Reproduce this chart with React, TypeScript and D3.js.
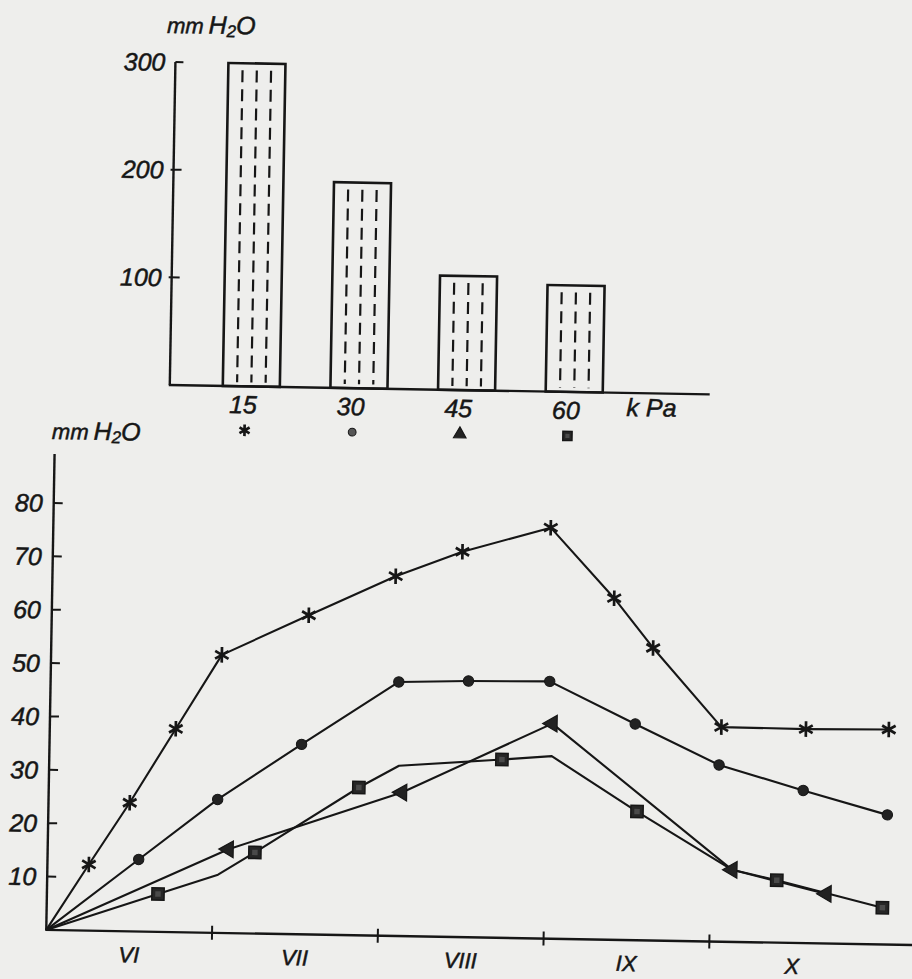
import React from "react";
import * as d3 from "d3";

const W = 912;
const H = 979;

// upper chart: pressure (kPa) -> mm H2O
const pressureLabels = ["15", "30", "45", "60"];
const barHeights = [300, 191, 106, 99];
const barTicks = [100, 200, 300];

// lower chart: months VI..X
const monthLabels = ["VI", "VII", "VIII", "IX", "X"];
const monthTicks = [1, 2, 3, 4];
const lineTicks = [10, 20, 30, 40, 50, 60, 70, 80];

// 15 kPa (asterisk)
const kpa15Months = [0, 0.25, 0.49, 0.76, 1.03, 1.55, 2.07, 2.47, 3.0, 3.39, 3.63, 4.05, 4.56, 5.06];
const kpa15Values = [0, 12.4, 24.1, 38.1, 52.1, 59.8, 67.4, 72.2, 77, 64, 54.8, 40.2, 40.1, 40.3];
const kpa15Marked = [0, 1, 1, 1, 1, 1, 1, 1, 1, 1, 1, 1, 1, 1];

// 30 kPa (circle)
const kpa30Months = [0, 0.55, 1.02, 1.52, 2.1, 2.52, 3.01, 3.53, 4.04, 4.55, 5.06];
const kpa30Values = [0, 13.5, 25, 35.6, 47.6, 48, 48.2, 40.5, 33.1, 28.6, 24.3];
const kpa30Marked = [0, 1, 1, 1, 1, 1, 1, 1, 1, 1, 1];

// 45 kPa (triangle)
const kpa45Months = [0, 1.09, 2.13, 3.03, 4.13, 4.7];
const kpa45Values = [0, 15.7, 26.9, 40.3, 13.5, 9.3];
const kpa45Marked = [0, 1, 1, 1, 1, 1];

// 60 kPa (square)
const kpa60Months = [0, 0.67, 1.03, 1.25, 1.87, 2.11, 2.73, 3.03, 3.55, 4.13, 4.4, 5.04];
const kpa60Values = [0, 7.1, 10.9, 15.2, 27.7, 31.9, 33.4, 34.2, 24.1, 13.5, 11.7, 6.9];
const kpa60Marked = [0, 1, 0, 1, 1, 0, 1, 0, 1, 0, 1, 1];

const markerTypes = ["asterisk", "circle", "triangle", "square"];

const series = [
  { months: kpa15Months, values: kpa15Values, marked: kpa15Marked, marker: markerTypes[0] },
  { months: kpa30Months, values: kpa30Values, marked: kpa30Marked, marker: markerTypes[1] },
  { months: kpa45Months, values: kpa45Values, marked: kpa45Marked, marker: markerTypes[2] },
  { months: kpa60Months, values: kpa60Values, marked: kpa60Marked, marker: markerTypes[3] },
].map((s) => ({
  marker: s.marker,
  points: s.months.map((m, i) => ({ m, v: s.values[i], marked: s.marked[i] === 1 })),
}));

const INK = "#161616";
const FONT = "'Liberation Sans', Arial, sans-serif";
// scanned lettering is a bit heavier than the plain italic
const textInk = { fill: INK, stroke: INK, strokeWidth: 0.5, fontFamily: FONT, fontStyle: "italic" };

const Marker = ({ type, x, y, small = false }) => {
  const k = small ? 0.75 : 1;
  if (type === "asterisk") {
    const d = d3.symbol().type(d3.symbolAsterisk).size(170 * k * k)();
    return (
      <path d={d} transform={`translate(${x},${y})`} fill="none" stroke={INK} strokeWidth={2.7} />
    );
  }
  if (type === "circle") {
    const d = d3.symbol().type(d3.symbolCircle).size(85 * k * k)();
    return <path d={d} transform={`translate(${x},${y})`} fill={small ? "#555" : "#222"} stroke={INK} strokeWidth={1} />;
  }
  if (type === "triangle") {
    const d = d3.symbol().type(d3.symbolTriangle).size(120 * k * k)();
    return (
      <path
        d={d}
        transform={`translate(${x},${y}) rotate(${small ? 0 : -90})`}
        fill="#222"
        stroke={INK}
        strokeWidth={1.2}
      />
    );
  }
  const d = d3.symbol().type(d3.symbolSquare).size(150 * k * k)();
  return (
    <g transform={`translate(${x},${y})`}>
      <path d={d} fill="#262626" stroke={INK} strokeWidth={1.5} />
      <path d={d3.symbol().type(d3.symbolSquare).size(30 * k * k)()} fill="#4a4a4a" />
    </g>
  );
};

const MmH2O = ({ x, y }) => (
  <text x={x} y={y} {...textInk}>
    <tspan fontSize={22}>mm</tspan>
    <tspan fontSize={25} dx={5}>H</tspan>
    <tspan fontSize={17} dy={3}>2</tspan>
    <tspan fontSize={25} dy={-3}>O</tspan>
  </text>
);

export default function App() {
  // upper bar chart
  const yBar = d3.scaleLinear().domain([0, 300]).range([390, 67]);
  const xBar = d3.scaleBand().domain(pressureLabels).range([221, 601]).paddingInner(0.47);
  const bw = xBar.bandwidth();
  const barAxisX = 168;
  const barAxisEnd = 708;

  // lower line chart
  const xM = d3.scaleLinear().domain([0, 5]).range([54, 883]);
  const yL = d3.scaleLinear().domain([0, 80]).range([937, 510]);
  const line = d3
    .line()
    .x((d) => xM(d.m))
    .y((d) => yL(d.v));

  return (
    <svg
      width={W}
      height={H}
      viewBox={`0 0 ${W} ${H}`}
      style={{ position: "absolute", left: 0, top: 0, background: "#eeeeec" }}
    >
      <rect x={0} y={0} width={W} height={H} fill="#eeeeec" />
      <g transform="rotate(1, 456, 490)">
        {/* ---------- bar chart ---------- */}
        <MmH2O x={159} y={38} />
        <line x1={barAxisX} x2={barAxisX} y1={yBar(300)} y2={yBar(0)} stroke={INK} strokeWidth={2.4} />
        <line x1={barAxisX - 1} x2={barAxisEnd} y1={yBar(0)} y2={yBar(0)} stroke={INK} strokeWidth={2.4} />
        {barTicks.map((t) => (
          <g key={t}>
            <line x1={barAxisX - (t === 300 ? 0 : 3)} x2={barAxisX + 8} y1={yBar(t)} y2={yBar(t)} stroke={INK} strokeWidth={2} />
            <text x={barAxisX - 10} y={yBar(t)} dy="0.36em" textAnchor="end" fontSize={25} {...textInk}>
              {t}
            </text>
          </g>
        ))}
        {pressureLabels.map((c, i) => {
          const x = xBar(c);
          const top = yBar(barHeights[i]);
          const base = yBar(0);
          return (
            <g key={c}>
              <rect x={x} y={top} width={bw} height={base - top} fill="none" stroke={INK} strokeWidth={2.6} />
              {[0.25, 0.5, 0.75].map((f) => (
                <line
                  key={f}
                  x1={x + bw * f}
                  x2={x + bw * f}
                  y1={top + 7}
                  y2={base - 4}
                  stroke={INK}
                  strokeWidth={2.2}
                  strokeDasharray="12,7"
                />
              ))}
              <text x={x + bw / 2 - 8} y={417} textAnchor="middle" fontSize={25} {...textInk}>
                {c}
              </text>
              <Marker type={markerTypes[i]} x={x + bw / 2 - 6} y={434} small />
            </g>
          );
        })}
        <text x={625} y={413} fontSize={25} {...textInk}>
          k Pa
        </text>

        {/* ---------- line chart ---------- */}
        <MmH2O x={51} y={446} />
        <line x1={xM(0)} x2={xM(0)} y1={461} y2={yL(0)} stroke={INK} strokeWidth={2.4} />
        <line x1={xM(0) - 1} x2={930} y1={yL(0)} y2={yL(0)} stroke={INK} strokeWidth={2.4} />
        {lineTicks.map((t) => (
          <g key={t}>
            <line x1={xM(0)} x2={xM(0) + 9} y1={yL(t)} y2={yL(t)} stroke={INK} strokeWidth={2} />
            <text x={xM(0) - 11} y={yL(t)} dy="0.36em" textAnchor="end" fontSize={25} {...textInk}>
              {t}
            </text>
          </g>
        ))}
        {monthTicks.map((m) => (
          <line key={m} x1={xM(m)} x2={xM(m)} y1={yL(0) - 7} y2={yL(0) + 7} stroke={INK} strokeWidth={2} />
        ))}
        {monthLabels.map((lab, i) => (
          <text key={lab} x={xM(i + 0.5)} y={968} textAnchor="middle" fontSize={22} {...textInk}>
            {lab}
          </text>
        ))}
        {series.map((s, i) => (
          <path key={i} d={line(s.points)} fill="none" stroke={INK} strokeWidth={2.1} strokeLinejoin="round" />
        ))}
        {series.map((s, i) =>
          s.points
            .filter((p) => p.marked)
            .map((p, j) => <Marker key={`${i}-${j}`} type={s.marker} x={xM(p.m)} y={yL(p.v)} />)
        )}
      </g>
    </svg>
  );
}
